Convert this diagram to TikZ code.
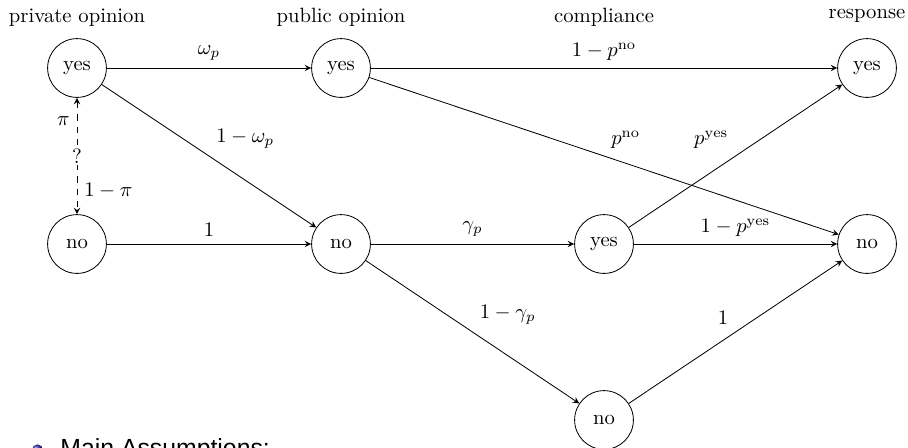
\documentclass[tikz,border=0pt]{standalone}
\usepackage{fontspec}
\newfontfamily\slidesans{Liberation Sans}
\usetikzlibrary{arrows}
\definecolor{beamerblue}{rgb}{0.2,0.2,0.7}
\begin{document}
\begin{tikzpicture}[x=0.484pt,y=-0.484pt, >=stealth,
  state/.style={circle,draw,minimum size=1cm,inner sep=0pt},
  coltitle/.style={anchor=base},
  edge/.style={->},
  itemtext/.style={anchor=base west,inner sep=0pt,font=\slidesans\fontsize{12}{14}\selectfont}]
\useasboundingbox (0,0) rectangle (908,447);
\clip (0,0) rectangle (908,447);
% column titles
\node[coltitle] (t1) at (77,22) {private opinion};
\node[coltitle] (t2) at (341,22) {public opinion};
\node[coltitle] (t3) at (604,22) {compliance};
\node[coltitle] (t4) at (867,18) {response};
% states
\node[state] (py) at (77,68) {yes};
\node[state] (pn) at (77,244) {no};
\node[state] (uy) at (341,68) {yes};
\node[state] (un) at (341,244) {no};
\node[state] (cy) at (604,244) {yes};
\node[state] (cn) at (604,420) {no};
\node[state] (ry) at (867,68) {yes};
\node[state] (rn) at (867,244) {no};
% edges
\draw[edge] (py) -- node[above]{$\omega_p$} (uy);
\draw[edge] (py) -- node[above right]{$1-\omega_p$} (un);
\draw[edge] (pn) -- node[above]{$1$} (un);
\draw[edge] (uy) -- node[above]{$1-p^{\mathrm{no}}$} (ry);
\draw[edge] (uy) -- node[above right]{$p^{\mathrm{no}}$} (rn);
\draw[edge] (un) -- node[above]{$\gamma_p$} (cy);
\draw[edge] (un) -- node[above right]{$1-\gamma_p$} (cn);
\draw[edge] (cy) -- node[above left]{$p^{\mathrm{yes}}$} (ry);
\draw[edge] (cy) -- node[above]{$1-p^{\mathrm{yes}}$} (rn);
\draw[edge] (cn) -- node[above left]{$1$} (rn);
\draw[<->,dashed] (py) -- node[pos=0.2,left]{$\pi$} node[midway,fill=white,inner sep=1pt]{?} node[pos=0.8,right]{$1-\pi$} (pn);
% slide text
\shade[ball color=beamerblue] (37.5,450) circle[radius=2.7pt];
\node[itemtext] (ma) at (60,456) {Main Assumptions:};
\end{tikzpicture}
\end{document}
